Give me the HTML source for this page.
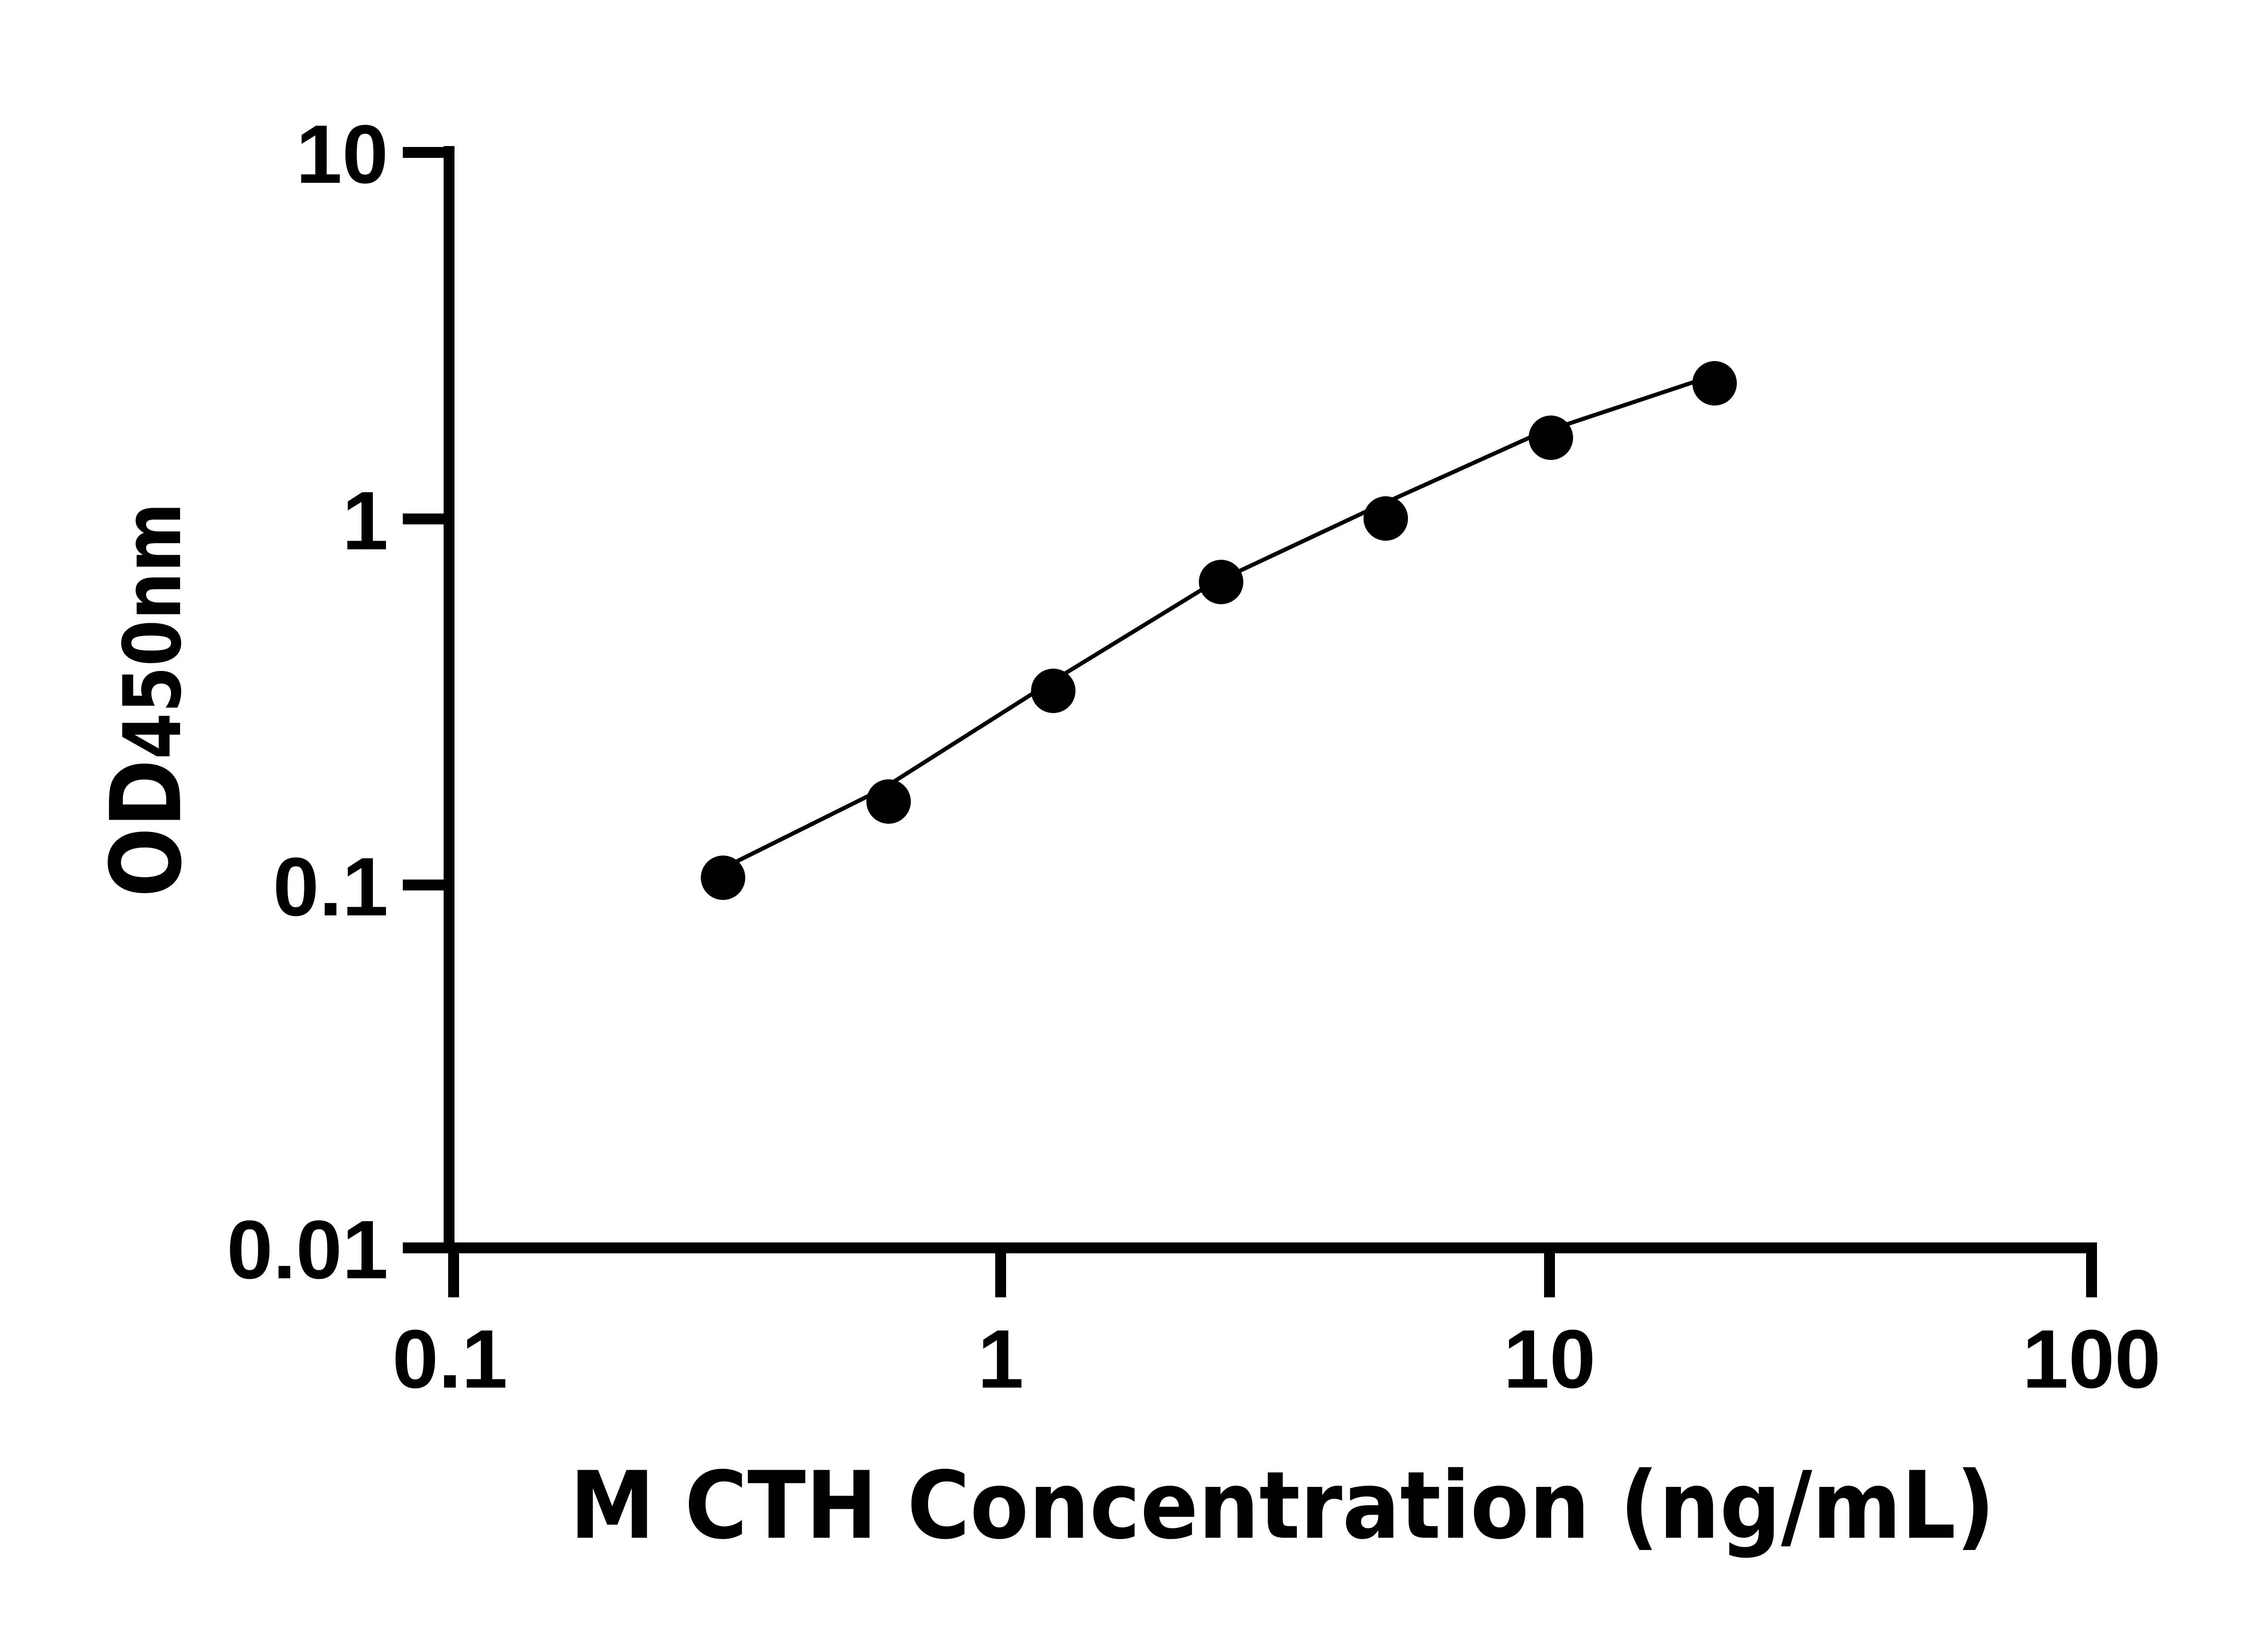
<!DOCTYPE html>
<html><head><meta charset="utf-8"><style>html,body{margin:0;padding:0;background:#fff;}svg{display:block;}</style></head>
<body>
<svg width="5142" height="3600" viewBox="0 0 5142 3600" xmlns="http://www.w3.org/2000/svg">
<rect width="5142" height="3600" fill="#fff"/>
<g stroke="#000" stroke-width="24" fill="none" stroke-linecap="butt">
<line x1="990" y1="322" x2="990" y2="2763"/>
<line x1="978" y1="2751" x2="4623" y2="2751"/>
<line x1="888" y1="336" x2="1002" y2="336"/>
<line x1="888" y1="1144" x2="1002" y2="1144"/>
<line x1="888" y1="1951" x2="1002" y2="1951"/>
<line x1="888" y1="2751" x2="1002" y2="2751"/>
<line x1="1000" y1="2739" x2="1000" y2="2860"/>
<line x1="2206" y1="2739" x2="2206" y2="2860"/>
<line x1="3416" y1="2739" x2="3416" y2="2860"/>
<line x1="4611" y1="2739" x2="4611" y2="2860"/>
</g>
<polyline points="1584,1919 1944,1740 2305,1511 2666,1290 3028,1120 3389,957 3750,837" stroke="#000" stroke-width="9" fill="none" stroke-linejoin="round"/>
<g fill="#000">
<circle cx="1594" cy="1935" r="49"/>
<circle cx="1959" cy="1767" r="49"/>
<circle cx="2322" cy="1523" r="49"/>
<circle cx="2692" cy="1283" r="49"/>
<circle cx="3055" cy="1143" r="49"/>
<circle cx="3419" cy="965" r="49"/>
<circle cx="3780" cy="845" r="49"/>
</g>
<g font-family="Liberation Sans, Arial, Helvetica, sans-serif" font-weight="bold" font-size="183" fill="#000">
<text x="856" y="403" text-anchor="end">10</text>
<text x="856" y="1211" text-anchor="end">1</text>
<text x="856" y="2018" text-anchor="end">0.1</text>
<text x="856" y="2818" text-anchor="end">0.01</text>
<text x="992" y="3059" text-anchor="middle">0.1</text>
<text x="2206" y="3059" text-anchor="middle">1</text>
<text x="3416" y="3059" text-anchor="middle">10</text>
<text x="4611" y="3059" text-anchor="middle">100</text>
</g>
<text x="2827" y="3390" text-anchor="middle" font-family="DejaVu Sans, sans-serif" font-weight="bold" font-size="205" textLength="3142" lengthAdjust="spacingAndGlyphs" fill="#000">M CTH Concentration (ng/mL)</text>
<text transform="translate(397,1543) rotate(-90)" text-anchor="middle" font-family="DejaVu Sans, sans-serif" font-weight="bold" fill="#000" textLength="870" lengthAdjust="spacingAndGlyphs"><tspan font-size="215">OD</tspan><tspan font-size="175">450nm</tspan></text>
</svg>
</body></html>
